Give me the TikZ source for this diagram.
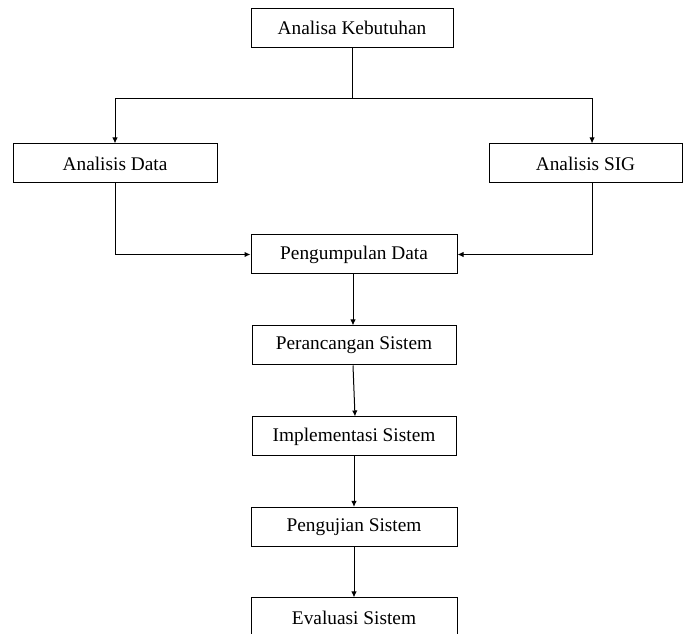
\documentclass[tikz,border=0pt]{standalone}
\usepackage{fontspec}
\setmainfont{Liberation Serif}
\usetikzlibrary{arrows.meta}
\tikzset{
	stage/.style={
			draw, line width=0.75pt, minimum height=29.25pt, inner sep=0pt,
			font=\fontsize{14.5}{17}\selectfont
		},
	flow/.style={-{Latex[length=4.5pt,width=4pt]}, line width=0.75pt},
	link/.style={line width=0.75pt}
}

\begin{document}
\begin{tikzpicture}[x=0.75pt, y=-0.75pt]
			\clip (0, 0) rectangle (683, 634);

			\node[stage, minimum width=151.5pt] (keb) at (352, 28) {Analisa Kebutuhan};
			\node[stage, minimum width=153pt] (data) at (115, 163.5) {Analisis Data};
			\node[stage, minimum width=144.75pt] (sig) at (585.5, 163.5) {Analisis SIG};
			\node[stage, minimum width=154.5pt] (kump) at (354, 254.5) {Pengumpulan Data};
			\node[stage, minimum width=153pt] (rancang) at (354, 345.5) {Perancangan Sistem};
			\node[stage, minimum width=153pt] (impl) at (354, 436.5) {Implementasi Sistem};
			\node[stage, minimum width=154.5pt] (uji) at (354, 527) {Pengujian Sistem};
			\node[stage, minimum width=154.5pt] (eval) at (354, 617.5) {Evaluasi Sistem};

			\coordinate (split) at (352, 98.5);
			\draw[link]	(keb.south) to (split);
			\draw[flow]	(split) -| (data.north);
			\draw[flow]	(split) -| ([xshift=4.9pt]sig.north);

			\draw[flow]	(data.south) |- (kump.west);
			\draw[flow]	([xshift=4.9pt]sig.south) |- (kump.east);

			\draw[flow]	([xshift=-0.75pt]kump.south) to ([xshift=-0.75pt]rancang.north);
			\draw[flow]	([xshift=-0.75pt]rancang.south) to ([xshift=0.75pt]impl.north);
			\draw[flow]	(impl.south) to (uji.north);
			\draw[flow]	(uji.south) to (eval.north);
		\end{tikzpicture}
\end{document}
